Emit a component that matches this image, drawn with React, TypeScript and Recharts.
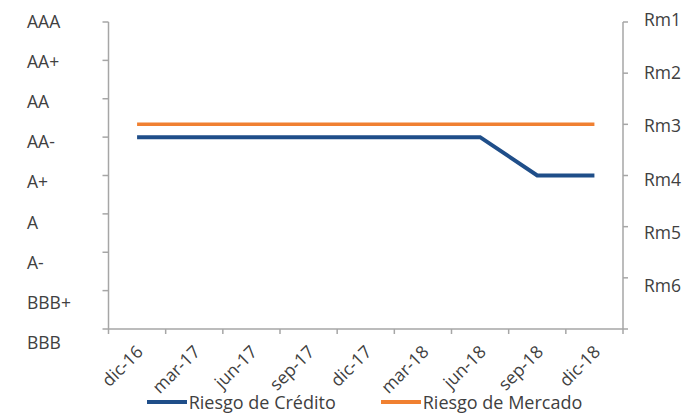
import React from 'react';
import { LineChart, Line, XAxis, YAxis } from 'recharts';

const months = ['dic-16', 'mar-17', 'jun-17', 'sep-17', 'dic-17', 'mar-18', 'jun-18', 'sep-18', 'dic-18'];
const ratingScale = ['BBB', 'BBB+', 'A-', 'A', 'A+', 'AA-', 'AA', 'AA+', 'AAA'];
const marketScale = ['Rm1', 'Rm2', 'Rm3', 'Rm4', 'Rm5', 'Rm6'];
const creditRating = ['AA-', 'AA-', 'AA-', 'AA-', 'AA-', 'AA-', 'AA-', 'A+', 'A+'];
const marketRisk = ['Rm3', 'Rm3', 'Rm3', 'Rm3', 'Rm3', 'Rm3', 'Rm3', 'Rm3', 'Rm3'];

const seriesNames = ['Riesgo de Crédito', 'Riesgo de Mercado'];
const seriesColors = ['#1F4E89', '#F08031'];

const data = months.map((month, i) => ({
  month,
  credito: ratingScale.indexOf(creditRating[i]),
  mercado: marketScale.indexOf(marketRisk[i]) + 1,
}));

const ratingTicks = ratingScale.map((_, i) => i);
const marketTicks = [1, 2, 3, 4, 5, 6, 7];
const marketLabelTicks = [1, 2, 3, 4, 5, 6];

const FONT = '"Open Sans", "Noto Sans", sans-serif';
const TEXT = '#404040';
const AXIS = '#A6A6A6';
const FS = 17.5;

// tick marks only, no text
const NoLabel = () => <g />;

// Excel-style category tick: marks on the band edges, label rotated under the band centre
const MonthTick = (props: any) => {
  const { x, y, payload, index } = props;
  const half = payload?.offset ?? 0;
  const last = index === months.length - 1;
  return (
    <g>
      <line x1={x - half} x2={x - half} y1={y} y2={y + 5} stroke={AXIS} strokeWidth={1.5} />
      {last && <line x1={x + half} x2={x + half} y1={y} y2={y + 5} stroke={AXIS} strokeWidth={1.5} />}
      <text
        x={x + 7}
        y={y + 24}
        transform={`rotate(-45, ${x + 7}, ${y + 24})`}
        textAnchor="end"
        fill={TEXT}
        fontSize={FS}
      >
        {payload.value}
      </text>
    </g>
  );
};

const App: React.FC = () => {
  return (
    <div style={{ position: 'relative', width: 697, height: 414, fontFamily: FONT }}>
      <style>{'body{margin:0}'}</style>
      <LineChart
        width={697}
        height={414}
        data={data}
        margin={{ top: 22, right: 0, bottom: 0, left: 19 }}
        style={{ fontFamily: FONT }}
      >
        <XAxis
          xAxisId="cat"
          dataKey="month"
          scale="band"
          stroke={AXIS}
          strokeWidth={1.5}
          tickLine={false}
          tickSize={0}
          tickMargin={0}
          height={85}
          interval={0}
          tick={MonthTick}
        />
        <YAxis
          yAxisId="left"
          domain={[0, 8]}
          ticks={ratingTicks}
          tick={NoLabel}
          tickSize={6}
          width={6}
          stroke={AXIS}
          strokeWidth={1.5}
        />
        {/* rating labels sit on a slightly wider spacing than the tick marks */}
        <YAxis
          yAxisId="leftLabels"
          domain={[0.337, 8]}
          allowDataOverflow
          ticks={ratingTicks}
          interval={0}
          tickFormatter={(v: number) => ratingScale[v] ?? ''}
          axisLine={false}
          tickLine={false}
          tickSize={0}
          tickMargin={0}
          width={83.5}
          tick={{ fill: TEXT, fontSize: FS, textAnchor: 'start', dx: -75.5 }}
        />
        <YAxis
          yAxisId="right"
          orientation="right"
          domain={[1, 7]}
          ticks={marketTicks}
          reversed
          tick={NoLabel}
          tickSize={5}
          width={6}
          stroke={AXIS}
          strokeWidth={1.5}
        />
        <YAxis
          yAxisId="rightLabels"
          orientation="right"
          domain={[1.047, 6.807]}
          allowDataOverflow
          ticks={marketLabelTicks}
          interval={0}
          reversed
          tickFormatter={(v: number) => marketScale[v - 1] ?? ''}
          axisLine={false}
          tickLine={false}
          tickSize={0}
          tickMargin={0}
          width={68}
          tick={{ fill: TEXT, fontSize: FS, textAnchor: 'start', dx: 15 }}
        />
        <Line
          xAxisId="cat"
          yAxisId="right"
          dataKey="mercado"
          name={seriesNames[1]}
          stroke={seriesColors[1]}
          strokeWidth={3.5}
          dot={false}
          isAnimationActive={false}
        />
        <Line
          xAxisId="cat"
          yAxisId="left"
          dataKey="credito"
          name={seriesNames[0]}
          stroke={seriesColors[0]}
          strokeWidth={4}
          dot={false}
          strokeLinejoin="miter"
          isAnimationActive={false}
        />
      </LineChart>
      <div
        style={{
          position: 'absolute',
          left: 107,
          width: 515,
          top: 391,
          display: 'flex',
          justifyContent: 'center',
          gap: 45,
          fontSize: 18,
          color: TEXT,
          lineHeight: '22px',
        }}
      >
        {seriesNames.map((name, i) => (
          <div key={name} style={{ display: 'flex', alignItems: 'center' }}>
            <span style={{ display: 'inline-block', width: 40, height: 4, background: seriesColors[i], marginRight: 2 }} />
            <span>{name}</span>
          </div>
        ))}
      </div>
    </div>
  );
};

export default App;
